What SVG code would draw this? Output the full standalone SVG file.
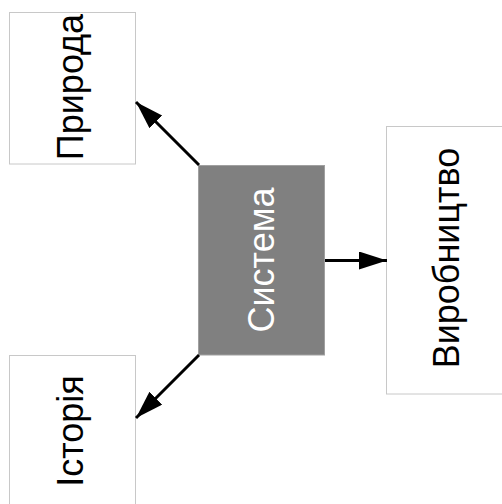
<svg xmlns="http://www.w3.org/2000/svg" width="502" height="504" viewBox="0 0 502 504">
<style>
.box{fill:#ffffff;stroke:#c8c8c8;stroke-width:1}
.sys{fill:#808080;stroke:#a0a0a0;stroke-width:1}
.lbl{font-family:"Liberation Sans",Arial,sans-serif;font-size:36px;text-anchor:middle;fill:#000000}
.wl{fill:#ffffff}
.conn{stroke:#000000;stroke-width:3;fill:none}
</style>
<defs>
<marker id="ah" markerUnits="userSpaceOnUse" markerWidth="30" markerHeight="20" refX="28" refY="9" orient="auto">
<polygon points="0,0 28,9 0,18" fill="#000000"/>
</marker>
</defs>
<rect width="502" height="504" fill="#ffffff"/>
<g id="node-pryroda">
<rect class="box" x="9.5" y="12.5" width="126" height="151.5"/>
<text class="lbl" transform="translate(83,87) rotate(-90)">Природа</text>
</g>
<g id="node-istoriia">
<rect class="box" x="9.5" y="355.5" width="126" height="160"/>
<text class="lbl" transform="translate(83,431) rotate(-90)">Історія</text>
</g>
<g id="node-vyrobnytstvo">
<rect class="box" x="386.5" y="126.5" width="130" height="267.5"/>
<text class="lbl" transform="translate(459,258) rotate(-90)">Виробництво</text>
</g>
<g id="node-systema">
<rect class="sys" x="198.5" y="165.5" width="126" height="189.5"/>
<text class="lbl wl" transform="translate(274,260) rotate(-90)">Система</text>
</g>
<g id="connectors">
<line class="conn" x1="199" y1="165" x2="136" y2="102" marker-end="url(#ah)"/>
<line class="conn" x1="199" y1="355" x2="136" y2="418" marker-end="url(#ah)"/>
<line class="conn" x1="325" y1="260.5" x2="387" y2="260.5" marker-end="url(#ah)"/>
</g>
</svg>
